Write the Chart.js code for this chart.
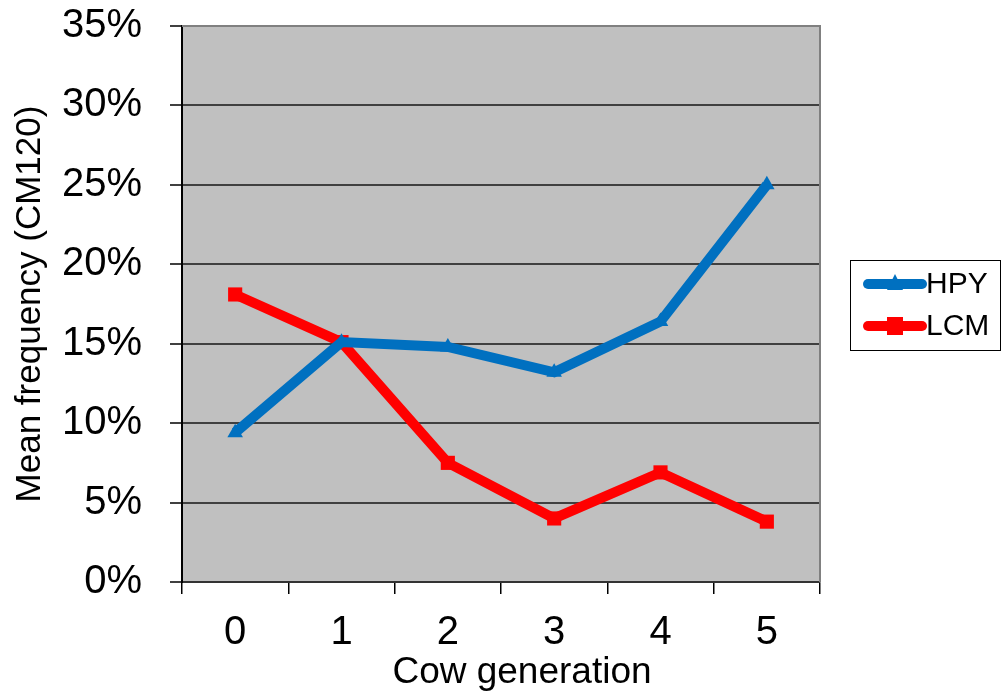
<!DOCTYPE html>
<html><head><meta charset="utf-8">
<script src="https://cdn.jsdelivr.net/npm/chart.js@4.4.1/dist/chart.umd.min.js"></script>
<style>html,body{margin:0;padding:0;background:#fff;}#wrap{width:1003px;height:695px;position:relative;}</style>
</head><body><div id="wrap"><canvas id="c" width="1003" height="695"></canvas></div>
<script>
const categories = ['0','1','2','3','4','5'];
const hpy = [9.4, 15.1, 14.8, 13.2, 16.4, 25.0];
const lcm = [18.1, 15.1, 7.5, 4.0, 6.9, 3.8];
const seriesNames = ['HPY','LCM'];
const seriesColors = ['#0070C0','#FF0000'];
const yTicks = [0,5,10,15,20,25,30,35];
const xTitle = 'Cow generation';
const yTitle = 'Mean frequency (CM120)';
const FONT = '"Liberation Sans", Arial, sans-serif';

const bgPlugin = {
  id:'bg',
  beforeDraw(chart){
    const {ctx, chartArea:a} = chart;
    ctx.save(); ctx.fillStyle='#C0C0C0';
    ctx.fillRect(a.left,a.top,a.right-a.left,a.bottom-a.top); ctx.restore();
  },
  afterDatasetsDraw(chart){
    const {ctx, chartArea:a} = chart;
    ctx.save(); ctx.strokeStyle='#808080'; ctx.lineWidth=2;
    ctx.beginPath(); ctx.moveTo(a.left,a.top); ctx.lineTo(a.right,a.top); ctx.lineTo(a.right,a.bottom); ctx.stroke();
    ctx.restore();
  },
  afterDraw(chart){
    const {ctx, chartArea:a} = chart;
    ctx.save(); ctx.fillStyle='#000';
    ctx.font='37px '+FONT; ctx.textAlign='center'; ctx.textBaseline='alphabetic';
    ctx.fillText(xTitle, 522, 683);
    ctx.translate(30, (a.top+a.bottom)/2); ctx.rotate(-Math.PI/2);
    ctx.font='35px '+FONT; ctx.textBaseline='middle';
    ctx.fillText(yTitle, 0, 0);
    ctx.restore();
  }
};
const legendPlugin = {
  id:'customLegend',
  afterDraw(chart){
    const ctx=chart.ctx; ctx.save();
    ctx.strokeStyle='#000'; ctx.lineWidth=1;
    ctx.strokeRect(850.5,260.5,150,90);
    chart.data.datasets.forEach((ds,i)=>{
      const y = 284 + i*42;
      ctx.strokeStyle=ds.borderColor; ctx.lineWidth=10; ctx.lineCap='round';
      ctx.beginPath(); ctx.moveTo(868,y); ctx.lineTo(922,y); ctx.stroke();
      ctx.fillStyle=ds.borderColor;
      if(i===0){ ctx.beginPath(); ctx.moveTo(895,y-10); ctx.lineTo(903,y+6); ctx.lineTo(887,y+6); ctx.closePath(); ctx.fill(); }
      else { ctx.fillRect(887,y-9,16,18); }
      ctx.fillStyle='#000'; ctx.font='30px '+FONT;
      ctx.textBaseline='middle'; ctx.textAlign='left';
      ctx.fillText(ds.label, 926, y+1);
    });
    ctx.restore();
  }
};

new Chart(document.getElementById('c'), {
  type:'line',
  data:{ labels:categories, datasets:[
    {label:seriesNames[0], data:hpy, borderColor:seriesColors[0], backgroundColor:seriesColors[0], borderWidth:10, pointStyle:'triangle', pointRadius:9, pointBorderWidth:0, tension:0},
    {label:seriesNames[1], data:lcm, borderColor:seriesColors[1], backgroundColor:seriesColors[1], borderWidth:10, pointStyle:'rect', pointRadius:10, pointBorderWidth:0, tension:0}
  ]},
  options:{
    responsive:false, animation:false,
    layout:{padding:{top:26,right:183,left:0,bottom:0}},
    plugins:{legend:{display:false}, tooltip:{enabled:false}},
    scales:{
      x:{
        offset:true,
        grid:{offset:true, drawOnChartArea:false, color:'#000', lineWidth:1.5, tickLength:12},
        border:{color:'#333', width:2},
        ticks:{color:'#000', font:{size:40, family:FONT}, padding:15, maxRotation:0},
        title:{display:false},
        afterFit(s){ s.height = 113; s.paddingLeft = 0; s.paddingRight = 0; }
      },
      y:{
        min:0, max:35,
        afterBuildTicks(s){ s.ticks = yTicks.map(v=>({value:v})); },
        grid:{color:'#404040', lineWidth:2, tickLength:12},
        border:{color:'#000', width:2},
        ticks:{color:'#000', font:{size:40, family:FONT}, padding:28, callback:v=>v+'%'},
        title:{display:false},
        afterFit(s){ s.width = 182; s.paddingTop = 0; s.paddingBottom = 0; }
      }
    }
  },
  plugins:[bgPlugin, legendPlugin]
});
</script></body></html>
